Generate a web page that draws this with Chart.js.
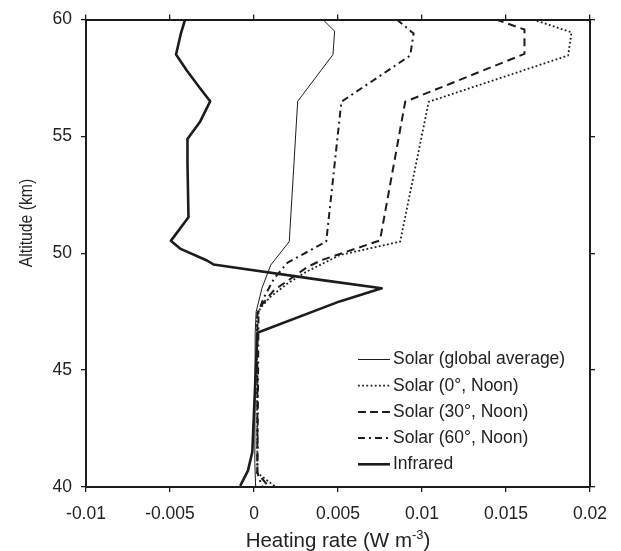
<!DOCTYPE html>
<html><head><meta charset="utf-8">
<script src="https://cdn.jsdelivr.net/npm/chart.js@4"></script>
<style>html,body{margin:0;padding:0;background:#fff;}#wrap{width:621px;height:551px;}</style>
</head><body><div id="wrap"><canvas id="c" width="621" height="551"></canvas></div>
<script>
// ---- data ----
const seriesNames = ['Solar (global average)', 'Solar (0\u00b0, Noon)', 'Solar (30\u00b0, Noon)', 'Solar (60\u00b0, Noon)', 'Infrared'];
const xTickValues = [-0.01, -0.005, 0, 0.005, 0.01, 0.015, 0.02];
const xTickLabels = ['-0.01', '-0.005', '0', '0.005', '0.01', '0.015', '0.02'];
const yTickValues = [40, 45, 50, 55, 60];
const yTickLabels = ['40', '45', '50', '55', '60'];
const xTitle = 'Heating rate (W m';
const xTitleSup = '-3';
const xTitleEnd = ')';
const yTitle = 'Altitude (km)';

const globalAlt  = [60, 59.5, 58.5, 56.5, 50.5, 49.5, 48.5, 47.5, 46.6, 41, 40];
const globalRate = [0.0041, 0.0048, 0.0047, 0.0026, 0.0021, 0.0010, 0.00047, 0.00013, 0.00007, 0.00005, 0.0001];

const solar0Alt  = [60, 59.45, 58.46, 56.48, 50.5, 49.92, 49.2, 48.71, 48.15, 47.65, 47.23, 40.6, 40];
const solar0Rate = [0.0166, 0.0189, 0.0187, 0.0104, 0.0087, 0.0051, 0.0031, 0.0020, 0.0010, 0.00037, 0.00017, 0.0002, 0.0013];

const solar30Alt  = [60, 59.57, 58.53, 56.48, 50.55, 49.7, 49.42, 48.92, 48.43, 47.8, 47.44, 40.6, 40];
const solar30Rate = [0.0144, 0.0161, 0.0161, 0.0090, 0.0075, 0.0040, 0.0032, 0.0022, 0.0012, 0.00047, 0.0002, 0.0002, 0.0009];

const solar60Alt  = [60, 59.4, 58.46, 56.48, 50.5, 49.6, 48.92, 48.08, 47.5, 40.6, 40];
const solar60Rate = [0.0085, 0.0095, 0.0093, 0.0052, 0.0043, 0.0020, 0.0012, 0.00057, 0.00027, 0.0002, 0.0005];

const irAlt  = [60, 59.38, 58.5, 57.82, 57.05, 56.5, 55.64, 54.89, 53.87, 51.54, 50.53, 50.2, 49.69, 49.52, 48.86, 48.5, 47.94, 46.6, 41.5, 40.7, 40.05];
const irRate = [-0.0041, -0.00436, -0.00464, -0.0040, -0.0032, -0.00261, -0.0032, -0.00396, -0.00396, -0.0039, -0.00495, -0.0044, -0.0028, -0.00241, 0.00395, 0.0076, 0.0051, 0.0002, -0.0001, -0.00036, -0.00082];

// ---- build ----
const pts = (alt, rate) => alt.map((a, i) => ({ x: rate[i], y: a }));
const INK = '#1c1c1c';
const FONT = '"Liberation Sans", Arial, Helvetica, sans-serif';
const FS = 17.5;

const datasets = [
  { label: seriesNames[0], data: pts(globalAlt, globalRate), borderWidth: 1, borderDash: [] },
  { label: seriesNames[1], data: pts(solar0Alt, solar0Rate), borderWidth: 1.8, borderDash: [1.8, 2.4] },
  { label: seriesNames[2], data: pts(solar30Alt, solar30Rate), borderWidth: 2, borderDash: [8, 5] },
  { label: seriesNames[3], data: pts(solar60Alt, solar60Rate), borderWidth: 2, borderDash: [7, 4, 2, 4] },
  { label: seriesNames[4], data: pts(irAlt, irRate), borderWidth: 2.6, borderDash: [] }
].map(d => Object.assign(d, { borderColor: INK, backgroundColor: INK, showLine: true, pointRadius: 0, tension: 0, fill: false, borderJoinStyle: 'round' }));

const legendDash = [[], [1.8, 2.4], [8, 4], [7, 4, 2, 4], []];

const annot = {
  id: 'annot',
  afterDraw(chart) {
    const ctx = chart.ctx, ca = chart.chartArea;
    ctx.save();
    ctx.fillStyle = '#222';
    ctx.font = FS + 'px ' + FONT;
    ctx.textBaseline = 'middle';
    ctx.textAlign = 'left';
    chart.data.datasets.forEach((ds, i) => {
      const y = ca.top + 340 + i * 26.2;
      const x0 = ca.left + 272;
      ctx.beginPath();
      ctx.setLineDash(legendDash[i]);
      ctx.lineWidth = ds.borderWidth;
      ctx.strokeStyle = ds.borderColor;
      ctx.moveTo(x0, y); ctx.lineTo(x0 + 32, y); ctx.stroke();
      ctx.fillText(ds.label, x0 + 35, y);
    });
    ctx.setLineDash([]);
    // x title with superscript
    const f1 = '20.5px ' + FONT, f2 = '13px ' + FONT;
    ctx.font = f1; const w1 = ctx.measureText(xTitle).width; const w3 = ctx.measureText(xTitleEnd).width;
    ctx.font = f2; const w2 = ctx.measureText(xTitleSup).width;
    const total = w1 + w2 + w3;
    let x = (ca.left + ca.right) / 2 - total / 2;
    const yb = 547;
    ctx.textBaseline = 'alphabetic';
    ctx.font = f1; ctx.fillText(xTitle, x, yb); x += w1;
    ctx.font = f2; ctx.fillText(xTitleSup, x, yb - 8); x += w2;
    ctx.font = f1; ctx.fillText(xTitleEnd, x, yb);
    // y title (slightly condensed, as in the reference)
    ctx.translate(27, 223);
    ctx.rotate(-Math.PI / 2);
    ctx.scale(0.9, 1);
    ctx.textAlign = 'center';
    ctx.textBaseline = 'middle';
    ctx.font = FS + 'px ' + FONT;
    ctx.fillText(yTitle, 0, 0);
    ctx.restore();
  }
};

const tickGrid = { drawOnChartArea: false, drawTicks: true, tickLength: 5, color: INK, lineWidth: 1.3 };
const border = { display: true, color: INK, width: 2 };

new Chart(document.getElementById('c'), {
  type: 'scatter',
  data: { datasets },
  options: {
    responsive: false,
    animation: false,
    devicePixelRatio: 1,
    layout: { padding: 0 },
    plugins: { legend: { display: false }, tooltip: { enabled: false } },
    scales: {
      x: {
        type: 'linear', position: 'bottom', min: -0.01, max: 0.02,
        afterBuildTicks: s => { s.ticks = xTickValues.map(v => ({ value: v })); },
        afterFit: s => { s.height = 64; },
        ticks: { callback: (v, i) => xTickLabels[i], color: '#222', font: { family: FONT, size: FS }, padding: 12, maxRotation: 0, autoSkip: false },
        grid: tickGrid, border
      },
      x2: {
        type: 'linear', position: 'top', min: -0.01, max: 0.02,
        afterBuildTicks: s => { s.ticks = xTickValues.map(v => ({ value: v })); },
        afterFit: s => { s.height = 15; },
        ticks: { display: false },
        grid: tickGrid, border
      },
      y: {
        type: 'linear', position: 'left', min: 40, max: 60,
        afterBuildTicks: s => { s.ticks = yTickValues.map(v => ({ value: v })); },
        afterFit: s => { s.width = 86; },
        ticks: { callback: (v, i) => yTickLabels[i], color: '#222', font: { family: FONT, size: FS }, padding: 9 },
        grid: tickGrid, border
      },
      y2: {
        type: 'linear', position: 'right', min: 40, max: 60,
        afterBuildTicks: s => { s.ticks = yTickValues.map(v => ({ value: v })); },
        afterFit: s => { s.width = 31; },
        ticks: { display: false },
        grid: tickGrid, border
      }
    }
  },
  plugins: [annot]
});
</script>
</body></html>
